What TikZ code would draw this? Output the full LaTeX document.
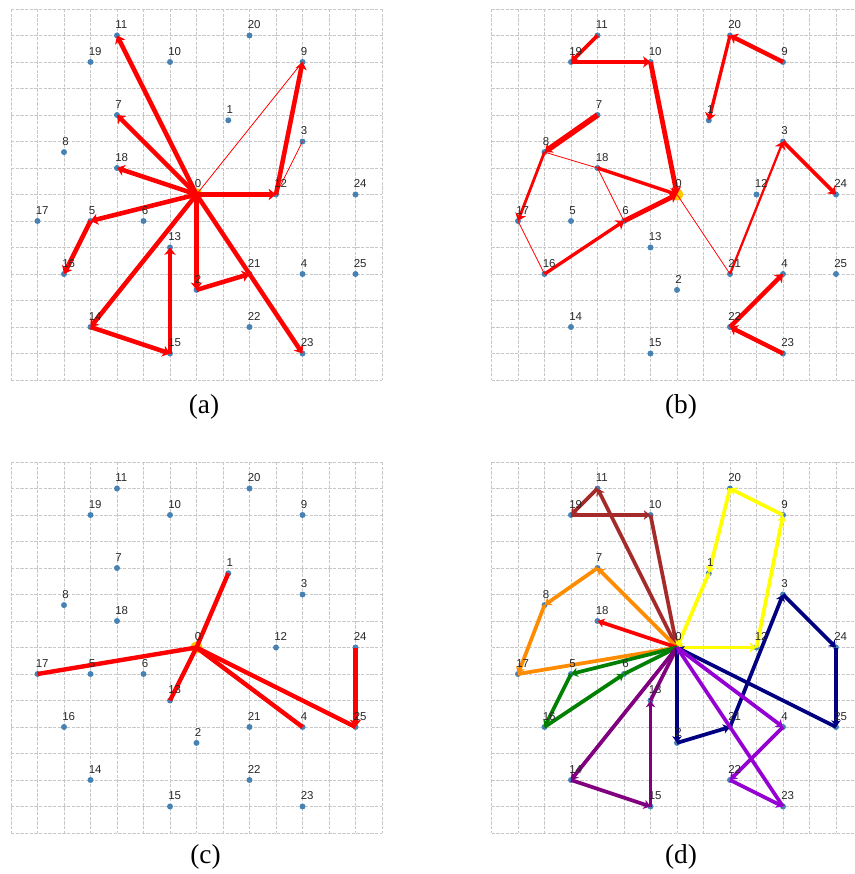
\documentclass[tikz,border=0pt]{standalone}
\usepackage{fontspec}
\setmainfont{Liberation Serif}
\newfontfamily\labelfont{Liberation Sans}
\usetikzlibrary{arrows.meta}
\definecolor{nodeblue}{RGB}{70,130,180}
\definecolor{depotgold}{RGB}{255,200,0}
\definecolor{gridgray}{RGB}{200,200,200}
\definecolor{labelgray}{RGB}{40,40,40}
\definecolor{routebrown}{RGB}{165,42,42}
\definecolor{routeyellow}{RGB}{255,255,0}
\definecolor{routeorange}{RGB}{255,140,0}
\definecolor{routegreen}{RGB}{0,128,0}
\definecolor{routepurple}{RGB}{128,0,128}
\definecolor{routenavy}{RGB}{0,0,128}
\definecolor{routeviolet}{RGB}{148,0,211}

\tikzset{
  dot/.style={circle, fill=nodeblue, inner sep=0pt, minimum size=4.5pt},
  depot/.style={circle, fill=depotgold, inner sep=0pt, minimum size=9pt},
  lbl/.style={anchor=base west, inner sep=0pt, text=labelgray,
    font=\labelfont\fontsize{8.6}{10}\selectfont},
  captext/.style={anchor=base, inner sep=0pt, font=\fontsize{20.5}{24}\selectfont},
  gridline/.style={gridgray, line width=0.6pt, dash pattern=on 2.6pt off 0.9pt},
  arrbig/.style={-{Stealth[length=5.5pt, width=8.5pt, inset=1.5pt]}},
  arrsmall/.style={-{Stealth[length=5pt, width=7pt, inset=1.3pt]}},
  redroute/.style={red, line width=3.4pt, arrbig},
  thinroute/.style={red, line width=0.6pt},
  droute/.style={#1, line width=2.8pt, arrsmall},
}

\begin{document}
\begin{tikzpicture}[x=0.75pt, y=-0.75pt]
  \useasboundingbox (0,0) rectangle (854,874);
  % grids, customers and depot of the four panels
  \foreach \p/\px/\py/\cx/\cy in {a/11/9/204/413, b/491.5/9/681/413,
      c/11/462/205.5/863, d/491.5/462/681/863} {
    \begin{scope}[shift={(\px,\py)}]
      \foreach \i in {0,...,14} {
        \draw[gridline] (\i*26.5, 0) -- (\i*26.5, 371);
        \draw[gridline] (0, \i*26.5) -- (371, \i*26.5);
      }
      \node[depot] (\p0) at (7*26.5, 7*26.5) {};
      \foreach \n/\c/\r in {1/8.2/4.2, 2/7/10.6, 3/11/5, 4/11/10, 5/3/8,
          6/5/8, 7/4/4, 8/2/5.4, 9/11/2, 10/6/2, 11/4/1, 12/10/7, 13/6/9,
          14/3/12, 15/6/13, 16/2/10, 17/1/8, 18/4/6, 19/3/2, 20/9/1,
          21/9/10, 22/9/12, 23/11/13, 24/13/7, 25/13/10}
        \node[dot] (\p\n) at (\c*26.5, \r*26.5) {};
    \end{scope}
    \node[captext] (cap\p) at (\cx,\cy) {(\p)};
  }

  % (a)
  \foreach \s/\t in {9/0, 3/12}
    \draw[thinroute] (a\s.center) -- (a\t.center);
  \foreach \s/\t in {0/11, 0/7, 0/18, 0/12, 12/9, 0/5, 5/16, 0/14, 14/15,
      15/13, 0/2, 2/21, 0/23}
    \draw[redroute] (a\s.center) -- (a\t.center);

  % (b)
  \foreach \s/\t in {8/18, 18/6, 17/16, 0/21}
    \draw[thinroute] (b\s.center) -- (b\t.center);
  \foreach \s/\t/\w in {11/19/2.8, 19/10/3.2, 10/0/3.6, 9/20/3.2, 20/1/2.5,
      7/8/4.2, 8/17/2.1, 18/0/2.5, 16/6/2.5, 6/0/3.6, 21/3/1.7, 3/24/2.8,
      23/22/3.2, 22/4/3.2}
    \draw[redroute, line width=\w pt] (b\s.center) -- (b\t.center);

  % (c)
  \foreach \t in {1, 13, 17, 4, 25}
    \draw[red, line width=3.3pt] (c0.center) -- (c\t.center);
  \draw[redroute] (c24.center) -- (c25.center);

  % (d)
  \foreach \s/\t in {0/11, 11/19, 19/10, 10/0}
    \draw[droute=routebrown] (d\s.center) -- (d\t.center);
  \foreach \s/\t in {0/12, 12/9, 9/20, 20/1, 1/0}
    \draw[droute=routeyellow] (d\s.center) -- (d\t.center);
  \foreach \s/\t in {0/7, 7/8, 8/17, 17/0}
    \draw[droute=routeorange] (d\s.center) -- (d\t.center);
  \draw[droute=red] (d0.center) -- (d18.center);
  \foreach \s/\t in {0/5, 5/16, 16/6, 6/0}
    \draw[droute=routegreen] (d\s.center) -- (d\t.center);
  \foreach \s/\t in {0/14, 14/15, 15/13, 13/0}
    \draw[droute=routepurple] (d\s.center) -- (d\t.center);
  \foreach \s/\t in {0/2, 2/21, 21/3, 3/24, 24/25, 25/0}
    \draw[droute=routenavy] (d\s.center) -- (d\t.center);
  \foreach \s/\t in {0/4, 4/22, 22/23, 23/0}
    \draw[droute=routeviolet] (d\s.center) -- (d\t.center);

  % labels on top
  \foreach \p in {a, b, c, d}
    \foreach \n in {0,...,25}
      \node[lbl] (l\p\n) at ([shift={(-2,-6.6)}]\p\n.center) {\n};
\end{tikzpicture}
\end{document}
